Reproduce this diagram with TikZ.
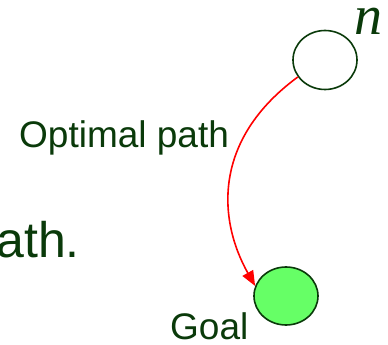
\documentclass[tikz,border=0pt]{standalone}
\usepackage{xcolor}
\usepackage{tikz}
\usetikzlibrary{positioning,shapes.geometric,arrows.meta}
\usepackage{fontspec}
\setmainfont{Liberation Sans}
\newfontfamily\serifit{Liberation Serif}
\definecolor{txtgreen}{HTML}{0A3A0A}
\definecolor{goalfill}{HTML}{66FF66}
\definecolor{pathred}{HTML}{FF0000}
\tikzset{
  statenode/.style={draw=txtgreen,ellipse,line width=1.6pt,minimum width=64pt,minimum height=59pt,inner sep=0pt},
  lbl/.style={text=txtgreen,inner sep=0pt,font=\fontsize{37}{40}\selectfont}
}

\begin{document}
\begin{tikzpicture}[x=1pt,y=1pt]
\useasboundingbox (0,0) rectangle (388,345);
\node[statenode,fill=white] (n) at (325,285) {};
\node[statenode,fill=goalfill,minimum height=58pt] (goal) at (286,49) {};
\node[anchor=base west,text=txtgreen,inner sep=0pt,font=\fontsize{56}{60}\serifit\itshape] (nlbl) at (354,310) {n};
\node[lbl,anchor=base west] (optlbl) at (19,197) {Optimal path};
\node[lbl,anchor=base east,font=\fontsize{50}{54}\selectfont] (pathtxt) at (80,87) {path.};
\node[lbl,anchor=base west] (goallbl) at (170,5) {Goal};
\draw[pathred,line width=1.6pt,-{Triangle[length=15pt,width=12pt]}]
  (n.212) .. controls (212,205) and (218,125) .. (goal.162);
\end{tikzpicture}
\end{document}
